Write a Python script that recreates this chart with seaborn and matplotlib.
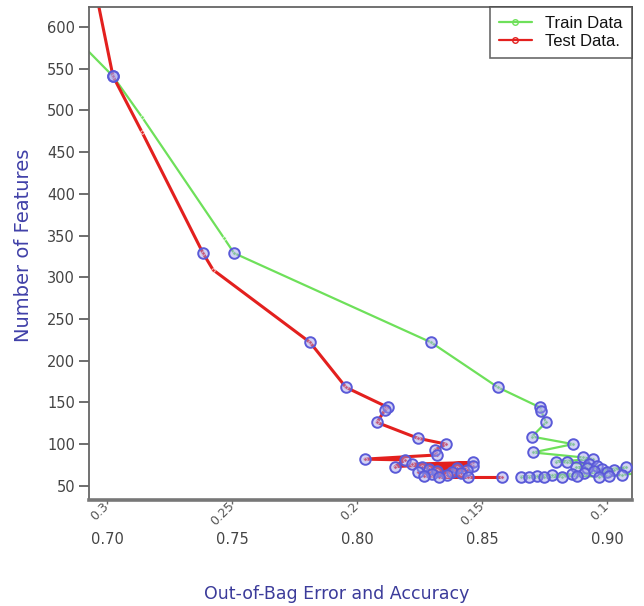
import numpy as np
import pandas as pd
import matplotlib
matplotlib.use("Agg")
import matplotlib.pyplot as plt
from matplotlib.lines import Line2D
import seaborn as sns

# ---------------- data ----------------
train_acc = [0.683, 0.7024, 0.714, 0.7468, 0.7508, 0.8296, 0.8564, 0.8732, 0.8736, 0.8756,
             0.870, 0.8864, 0.8704, 0.8905, 0.8945, 0.8795, 0.884, 0.893, 0.896, 0.8875,
             0.892, 0.898, 0.903, 0.9076, 0.895, 0.900, 0.891, 0.886, 0.878, 0.872,
             0.8655, 0.869, 0.875, 0.882, 0.888, 0.897, 0.901, 0.906, 0.920]
train_feat = [600, 541, 492, 347, 329, 222, 168, 144, 140, 126,
              109, 100, 90, 84, 82, 79, 78, 76, 74, 72,
              71, 70, 69, 72, 68, 66, 65, 64, 63, 62,
              61, 60, 60, 61, 62, 61, 62, 63, 68]
train_circle = [0, 1, 0, 0, 1, 1, 1, 1, 1, 1,
                1, 1, 1, 1, 1, 1, 1, 1, 1, 1,
                1, 1, 1, 1, 1, 1, 1, 1, 1, 1,
                1, 1, 1, 1, 1, 1, 1, 1, 0]

test_acc = [0.695, 0.7024, 0.714, 0.7384, 0.7424, 0.7812, 0.7956, 0.8124, 0.8112, 0.808,
            0.8244, 0.8356, 0.8312, 0.832, 0.8032, 0.8192, 0.8152, 0.8464, 0.822, 0.8465,
            0.826, 0.840, 0.829, 0.844, 0.832, 0.838, 0.8245, 0.8415, 0.830, 0.836,
            0.827, 0.8445, 0.833, 0.858]
test_feat = [650, 541, 474, 329, 309, 222, 168, 144, 141, 126,
             107, 100, 93, 87, 82, 81, 73, 78, 76, 74,
             72, 71, 70, 69, 68, 67, 66, 65, 64, 63,
             62, 61, 60, 60]
test_circle = [0, 1, 0, 1, 0, 1, 1, 1, 1, 1,
               1, 1, 1, 1, 1, 1, 1, 1, 1, 1,
               1, 1, 1, 1, 1, 1, 1, 1, 1, 1,
               1, 1, 1, 1]

acc_ticks = [0.70, 0.75, 0.80, 0.85, 0.90]
acc_labels = ["0.70", "0.75", "0.80", "0.85", "0.90"]
err_ticks = [0.3, 0.25, 0.2, 0.15, 0.1]
err_labels = ["0.3", "0.25", "0.2", "0.15", "0.1"]
feat_ticks = [50, 100, 150, 200, 250, 300, 350, 400, 450, 500, 550, 600]
series_names = ["Train Data", "Test Data."]

train_df = pd.DataFrame({"acc": train_acc, "feat": train_feat, "circle": train_circle})
test_df = pd.DataFrame({"acc": test_acc, "feat": test_feat, "circle": test_circle})

# ---------------- style ----------------
sns.set_style("white")
plt.rcParams["font.family"] = ["DejaVu Sans"]

GREEN = "#6ee05a"
RED = "#e3201e"
CIRC_EDGE = "#5a5ad8"
CIRC_FACE = (0.62, 0.62, 0.92, 0.45)

fig = plt.figure(figsize=(6.44, 6.06), dpi=100)
ax = fig.add_axes([89 / 644, 1 - 500 / 606, (632 - 89) / 644, (500 - 7) / 606])

sns.lineplot(data=train_df, x="acc", y="feat", sort=False, estimator=None, ax=ax,
             color=GREEN, lw=1.6, marker="o", markersize=2.5, markeredgewidth=0.5)
sns.lineplot(data=test_df, x="acc", y="feat", sort=False, estimator=None, ax=ax,
             color=RED, lw=2.2, marker="o", markersize=2.5, markeredgewidth=0.5)

sns.scatterplot(data=train_df[train_df.circle == 1], x="acc", y="feat", ax=ax,
                s=58, facecolor=CIRC_FACE, edgecolor=CIRC_EDGE, linewidth=1.4, zorder=4)
sns.scatterplot(data=test_df[test_df.circle == 1], x="acc", y="feat", ax=ax,
                s=58, facecolor=CIRC_FACE, edgecolor=CIRC_EDGE, linewidth=1.4, zorder=4)

ax.set_xlim(0.6928, 0.9100)
ax.set_ylim(33, 624)

ax.set_yticks(feat_ticks)
ax.set_yticklabels([str(v) for v in feat_ticks])
ax.set_xticks(acc_ticks)
ax.set_xticklabels(acc_labels)
ax.tick_params(axis="y", direction="out", length=7, width=1.2, color="#555555",
               labelsize=10.5, labelcolor="#444444", pad=3, left=True)
ax.tick_params(axis="x", direction="out", length=0, labelsize=10.5,
               labelcolor="#444444", pad=23, bottom=True)

for side in ["top", "right", "left"]:
    ax.spines[side].set_color("#666666")
    ax.spines[side].set_linewidth(1.3)
ax.spines["bottom"].set_color("#777777")
ax.spines["bottom"].set_linewidth(2.6)

# secondary error axis (rotated labels under the axis)
sec = ax.secondary_xaxis("bottom", functions=(lambda x: 1 - x, lambda x: 1 - x))
sec.set_xticks(err_ticks)
sec.set_xticklabels(err_labels)
sec.tick_params(axis="x", direction="out", length=3, width=1, color="#666666",
                labelsize=9, labelcolor="#555555", pad=0)
for lab in sec.get_xticklabels():
    lab.set_rotation(45)
    lab.set_rotation_mode("anchor")
    lab.set_ha("right")
    lab.set_va("center")
sec.spines["bottom"].set_visible(False)

ax.set_xlabel("")
ax.set_ylabel("Number of Features", fontsize=14, color="#4040a8")
ax.yaxis.set_label_coords(-0.103, 0.517)
fig.text(337 / 644, 1 - 594 / 606, "Out-of-Bag Error and Accuracy", fontsize=12.5,
         color="#3b3b9a", ha="center", va="center")

handles = [Line2D([0], [0], color=GREEN, lw=1.6, marker="o", markersize=4,
                  markerfacecolor="none", markeredgecolor=GREEN),
           Line2D([0], [0], color=RED, lw=1.6, marker="o", markersize=4,
                  markerfacecolor="none", markeredgecolor=RED)]
leg = ax.legend(handles, series_names, loc="upper right", frameon=True, fancybox=False,
                borderaxespad=0, labelspacing=0.15, handlelength=2.0,
                handletextpad=0.8, borderpad=0.55,
                prop={"family": ["Liberation Sans Narrow", "Liberation Sans"], "size": 12})
leg.get_frame().set_edgecolor("#444444")
leg.get_frame().set_linewidth(1.2)
for t in leg.get_texts():
    t.set_color("#111111")

fig.savefig("out.png", dpi=100)
